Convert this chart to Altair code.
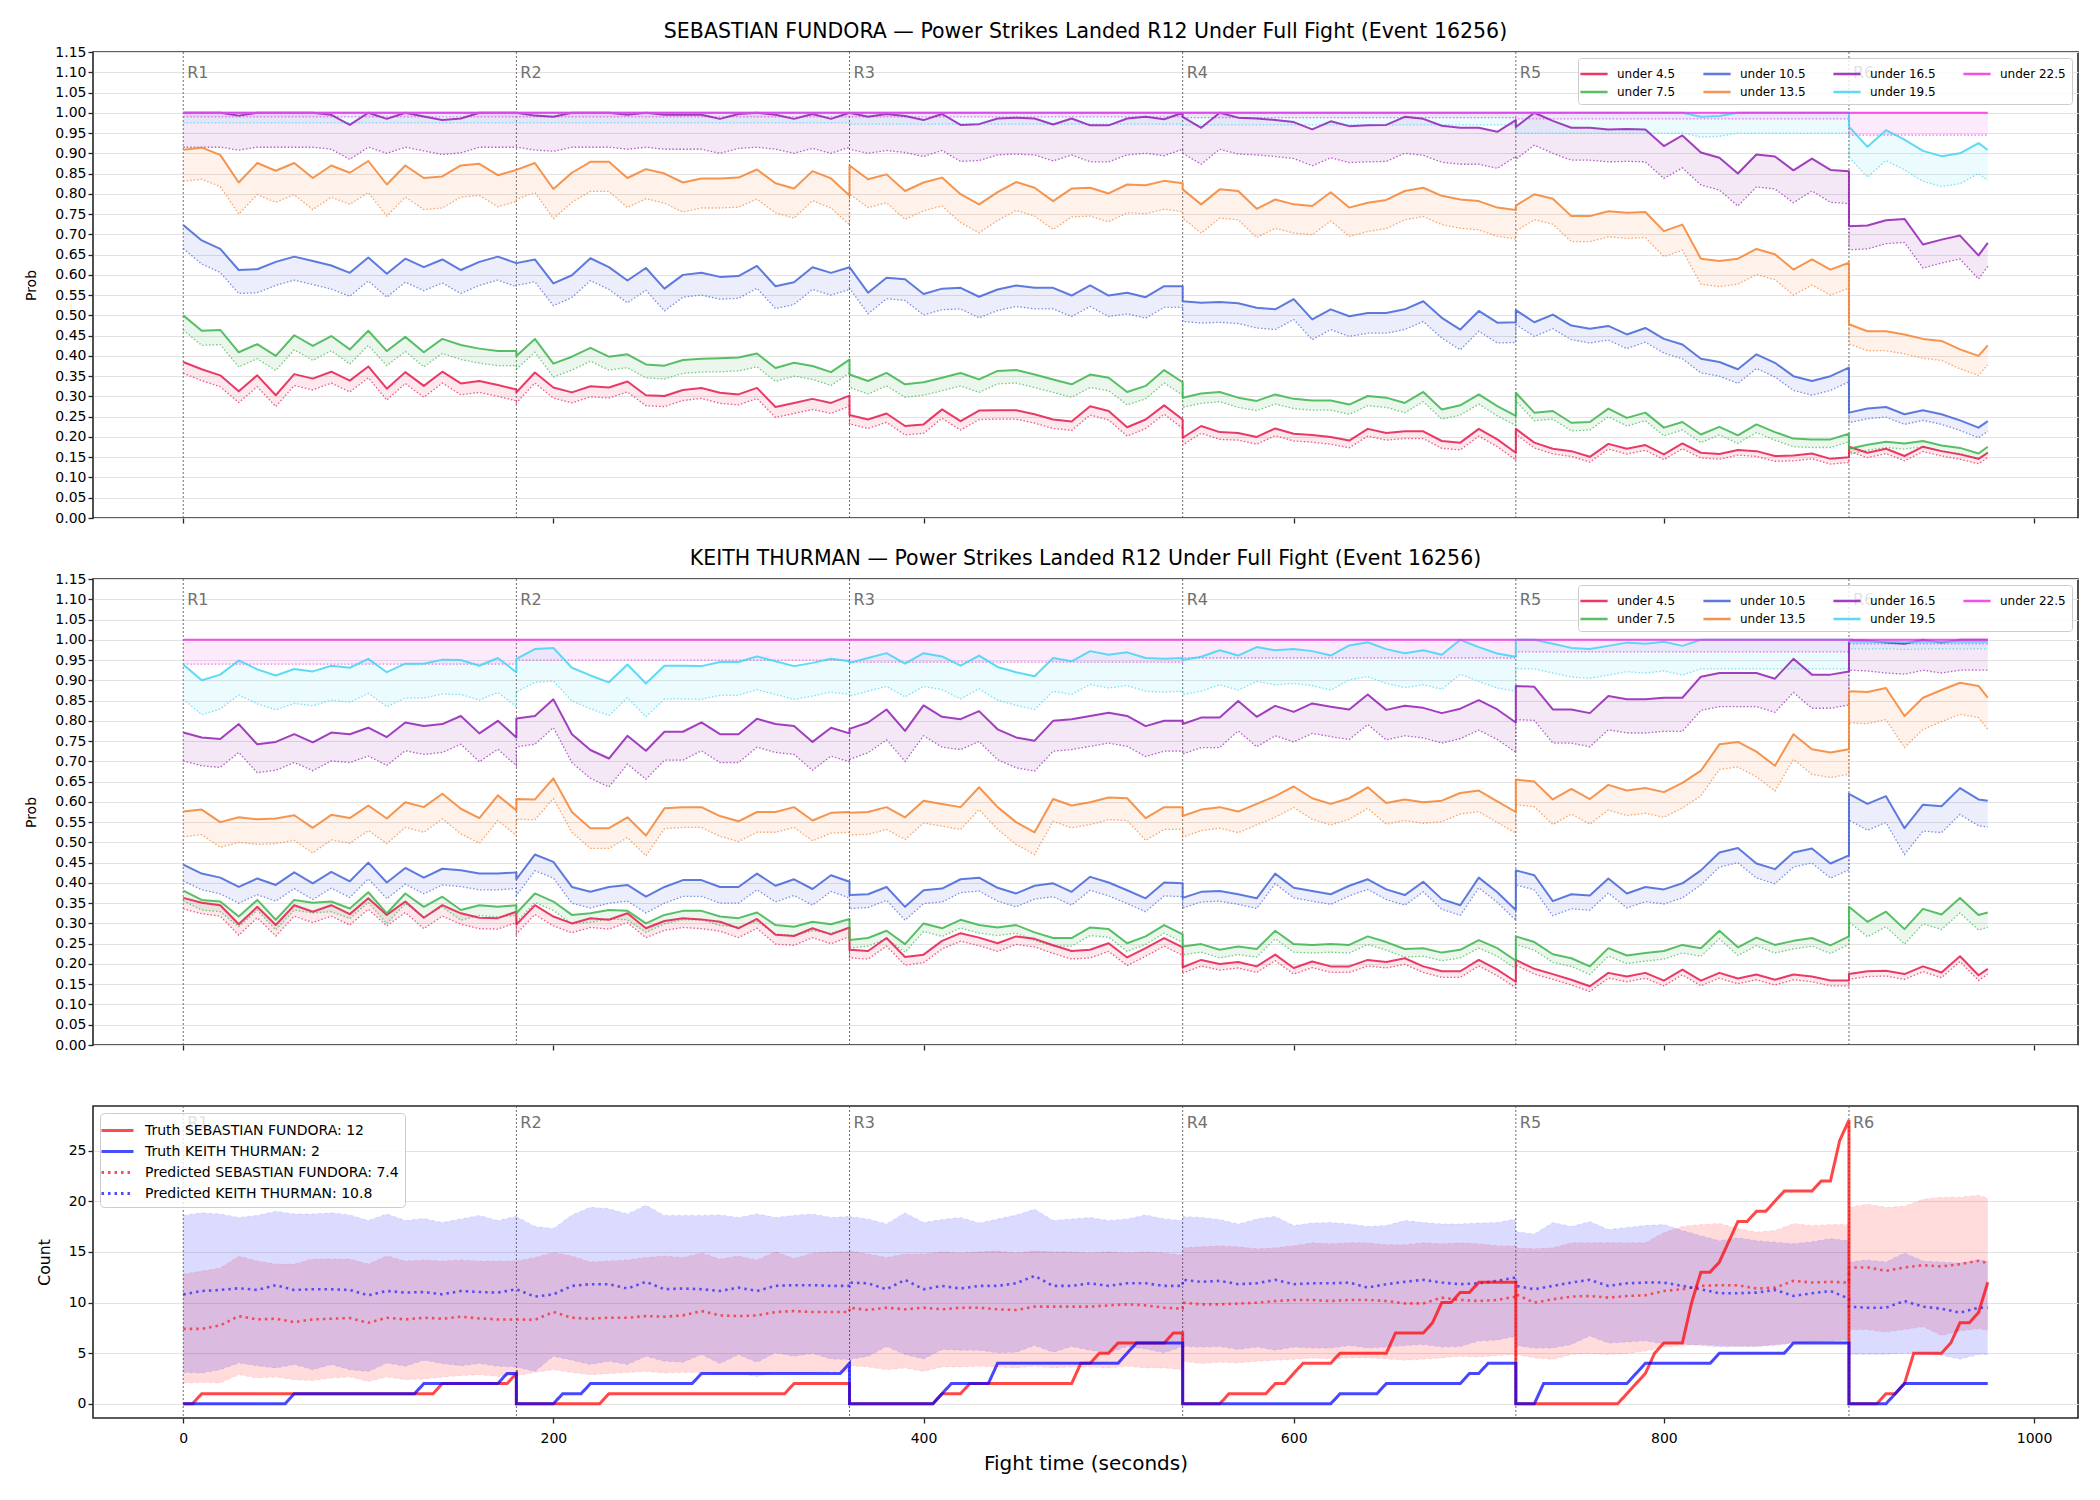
import altair as alt
import pandas as pd

FONT = "DejaVu Sans"

# ---------------------------------------------------------------- rounds
ROUND_NAMES = ["R1", "R2", "R3", "R4", "R5", "R6"]
ROUND_STARTS = [0, 180, 360, 540, 720, 900]
ROUND_ENDS = [180, 360, 540, 720, 900, 975]

# ---------------------------------------------------------------- thresholds
THRESHOLDS = ["under 4.5", "under 7.5", "under 10.5", "under 13.5",
              "under 16.5", "under 19.5", "under 22.5"]
THRESH_COLORS = ["#e6194b", "#3cb44b", "#4363d8", "#f58231",
                 "#911eb4", "#42d4f4", "#f032e6"]

# ---------------------------------------------------------------- SEBASTIAN FUNDORA, P(under x), one list per round, 10 s steps
F_U45 = [
    [0.385, 0.367, 0.352, 0.313, 0.352, 0.303, 0.355, 0.344, 0.361, 0.339, 0.374, 0.319, 0.360, 0.326, 0.361, 0.332, 0.338, 0.328, 0.317],
    [0.310, 0.359, 0.322, 0.310, 0.325, 0.322, 0.337, 0.303, 0.301, 0.316, 0.321, 0.309, 0.305, 0.321, 0.274, 0.284, 0.294, 0.284, 0.302],
    [0.254, 0.243, 0.258, 0.227, 0.231, 0.268, 0.239, 0.265, 0.266, 0.266, 0.256, 0.243, 0.238, 0.276, 0.264, 0.224, 0.243, 0.278, 0.243],
    [0.198, 0.227, 0.212, 0.210, 0.200, 0.221, 0.208, 0.205, 0.200, 0.191, 0.220, 0.210, 0.214, 0.214, 0.190, 0.186, 0.220, 0.194, 0.161],
    [0.220, 0.186, 0.171, 0.165, 0.151, 0.183, 0.171, 0.180, 0.157, 0.184, 0.161, 0.158, 0.168, 0.165, 0.153, 0.154, 0.159, 0.146, 0.150],
    [0.176, 0.161, 0.171, 0.153, 0.176, 0.165, 0.157, 0.146, 0.161],
]
F_U75 = [
    [0.500, 0.462, 0.464, 0.409, 0.429, 0.400, 0.451, 0.425, 0.449, 0.416, 0.462, 0.412, 0.447, 0.409, 0.442, 0.427, 0.418, 0.412, 0.412],
    [0.400, 0.442, 0.381, 0.398, 0.420, 0.398, 0.404, 0.379, 0.376, 0.390, 0.393, 0.394, 0.396, 0.406, 0.370, 0.383, 0.375, 0.360, 0.391],
    [0.354, 0.338, 0.358, 0.330, 0.335, 0.346, 0.358, 0.342, 0.363, 0.365, 0.354, 0.342, 0.330, 0.354, 0.346, 0.311, 0.326, 0.365, 0.335],
    [0.297, 0.307, 0.311, 0.297, 0.289, 0.305, 0.294, 0.290, 0.290, 0.280, 0.301, 0.297, 0.284, 0.311, 0.268, 0.278, 0.305, 0.276, 0.252],
    [0.309, 0.260, 0.264, 0.235, 0.237, 0.270, 0.247, 0.260, 0.223, 0.237, 0.206, 0.225, 0.204, 0.231, 0.212, 0.196, 0.194, 0.194, 0.208],
    [0.171, 0.181, 0.188, 0.184, 0.190, 0.179, 0.173, 0.159, 0.176],
]
F_U105 = [
    [0.723, 0.685, 0.664, 0.612, 0.614, 0.632, 0.645, 0.634, 0.623, 0.605, 0.643, 0.603, 0.640, 0.619, 0.638, 0.612, 0.632, 0.645, 0.629],
    [0.629, 0.638, 0.579, 0.599, 0.641, 0.619, 0.586, 0.617, 0.566, 0.600, 0.605, 0.595, 0.597, 0.622, 0.572, 0.582, 0.619, 0.605, 0.619],
    [0.619, 0.556, 0.593, 0.589, 0.553, 0.566, 0.568, 0.546, 0.564, 0.574, 0.568, 0.568, 0.549, 0.574, 0.549, 0.556, 0.545, 0.572, 0.572],
    [0.535, 0.531, 0.533, 0.530, 0.519, 0.515, 0.540, 0.490, 0.515, 0.498, 0.506, 0.506, 0.515, 0.535, 0.494, 0.465, 0.511, 0.482, 0.483],
    [0.513, 0.483, 0.502, 0.475, 0.467, 0.474, 0.453, 0.469, 0.442, 0.428, 0.393, 0.385, 0.367, 0.404, 0.383, 0.350, 0.338, 0.350, 0.371],
    [0.260, 0.270, 0.274, 0.256, 0.266, 0.256, 0.241, 0.223, 0.239],
]
F_U135 = [
    [0.909, 0.914, 0.896, 0.828, 0.876, 0.857, 0.876, 0.839, 0.870, 0.852, 0.881, 0.823, 0.870, 0.839, 0.843, 0.870, 0.874, 0.846, 0.859],
    [0.859, 0.876, 0.812, 0.852, 0.879, 0.879, 0.839, 0.861, 0.850, 0.828, 0.838, 0.838, 0.840, 0.860, 0.826, 0.813, 0.856, 0.838, 0.796],
    [0.870, 0.836, 0.848, 0.807, 0.828, 0.840, 0.799, 0.774, 0.804, 0.829, 0.815, 0.782, 0.813, 0.815, 0.801, 0.823, 0.821, 0.832, 0.826],
    [0.811, 0.774, 0.811, 0.807, 0.763, 0.786, 0.774, 0.770, 0.804, 0.766, 0.778, 0.785, 0.807, 0.815, 0.795, 0.786, 0.782, 0.766, 0.760],
    [0.771, 0.799, 0.788, 0.745, 0.745, 0.757, 0.753, 0.755, 0.708, 0.724, 0.640, 0.634, 0.640, 0.664, 0.651, 0.613, 0.638, 0.613, 0.630],
    [0.478, 0.461, 0.461, 0.453, 0.442, 0.437, 0.416, 0.400, 0.426],
]
F_U165 = [
    [1.000, 1.000, 1.000, 0.993, 1.000, 1.000, 1.000, 1.000, 0.995, 0.970, 1.000, 0.985, 1.000, 0.991, 0.982, 0.986, 1.000, 1.000, 1.000],
    [1.000, 0.993, 0.990, 1.000, 1.000, 1.000, 0.995, 1.000, 0.995, 0.995, 0.995, 0.985, 0.997, 1.000, 0.995, 0.985, 0.997, 0.985, 1.000],
    [1.000, 0.990, 0.997, 0.992, 0.982, 0.997, 0.970, 0.972, 0.986, 0.988, 0.986, 0.971, 0.986, 0.969, 0.969, 0.986, 0.990, 0.984, 1.000],
    [0.990, 0.963, 1.000, 0.988, 0.986, 0.982, 0.977, 0.959, 0.979, 0.967, 0.969, 0.970, 0.990, 0.985, 0.968, 0.963, 0.963, 0.953, 0.982],
    [0.965, 1.000, 0.980, 0.963, 0.963, 0.959, 0.960, 0.959, 0.918, 0.944, 0.902, 0.889, 0.850, 0.897, 0.892, 0.858, 0.887, 0.859, 0.856],
    [0.720, 0.722, 0.735, 0.738, 0.675, 0.687, 0.697, 0.648, 0.679],
]
F_U195 = [
    [1.000, 1.000, 1.000, 1.000, 1.000, 1.000, 1.000, 1.000, 1.000, 1.000, 1.000, 1.000, 1.000, 1.000, 1.000, 1.000, 1.000, 1.000, 1.000],
    [1.000, 1.000, 1.000, 1.000, 1.000, 1.000, 1.000, 1.000, 1.000, 1.000, 1.000, 1.000, 1.000, 1.000, 1.000, 1.000, 1.000, 1.000, 1.000],
    [1.000, 1.000, 1.000, 1.000, 1.000, 1.000, 1.000, 1.000, 1.000, 1.000, 1.000, 1.000, 1.000, 1.000, 1.000, 1.000, 1.000, 1.000, 1.000],
    [1.000, 1.000, 1.000, 1.000, 1.000, 1.000, 1.000, 1.000, 1.000, 1.000, 1.000, 1.000, 1.000, 1.000, 1.000, 1.000, 1.000, 1.000, 1.000],
    [1.000, 1.000, 1.000, 1.000, 1.000, 1.000, 1.000, 1.000, 1.000, 1.000, 0.990, 0.992, 1.000, 1.000, 1.000, 1.000, 1.000, 1.000, 1.000],
    [0.966, 0.916, 0.957, 0.934, 0.906, 0.893, 0.900, 0.925, 0.908],
]
F_U225 = [
    [1.000, 1.000, 1.000, 1.000, 1.000, 1.000, 1.000, 1.000, 1.000, 1.000, 1.000, 1.000, 1.000, 1.000, 1.000, 1.000, 1.000, 1.000, 1.000],
    [1.000, 1.000, 1.000, 1.000, 1.000, 1.000, 1.000, 1.000, 1.000, 1.000, 1.000, 1.000, 1.000, 1.000, 1.000, 1.000, 1.000, 1.000, 1.000],
    [1.000, 1.000, 1.000, 1.000, 1.000, 1.000, 1.000, 1.000, 1.000, 1.000, 1.000, 1.000, 1.000, 1.000, 1.000, 1.000, 1.000, 1.000, 1.000],
    [1.000, 1.000, 1.000, 1.000, 1.000, 1.000, 1.000, 1.000, 1.000, 1.000, 1.000, 1.000, 1.000, 1.000, 1.000, 1.000, 1.000, 1.000, 1.000],
    [1.000, 1.000, 1.000, 1.000, 1.000, 1.000, 1.000, 1.000, 1.000, 1.000, 1.000, 1.000, 1.000, 1.000, 1.000, 1.000, 1.000, 1.000, 1.000],
    [1.000, 1.000, 1.000, 1.000, 1.000, 1.000, 1.000, 1.000, 1.000],
]
# distance from each line down to its lower dotted bound, per round
F_LOWER_GAP = {
    "under 4.5": [0.028, 0.026, 0.022, 0.018, 0.013, 0.012],
    "under 7.5": [0.036, 0.033, 0.032, 0.024, 0.020, 0.014],
    "under 10.5": [0.058, 0.055, 0.052, 0.050, 0.035, 0.025],
    "under 13.5": [0.078, 0.073, 0.070, 0.071, 0.063, 0.048],
    "under 16.5": [0.085, 0.085, 0.090, 0.090, 0.080, 0.058],
    "under 19.5": [0.025, 0.025, 0.028, 0.030, 0.050, 0.075],
    "under 22.5": [0.010, 0.010, 0.010, 0.012, 0.015, 0.055],
}

# ---------------------------------------------------------------- KEITH THURMAN
K_U45 = [
    [0.363, 0.351, 0.345, 0.298, 0.341, 0.296, 0.345, 0.329, 0.345, 0.323, 0.362, 0.321, 0.354, 0.314, 0.345, 0.325, 0.314, 0.313, 0.329],
    [0.297, 0.345, 0.317, 0.300, 0.313, 0.309, 0.325, 0.288, 0.306, 0.313, 0.310, 0.304, 0.288, 0.311, 0.272, 0.269, 0.288, 0.273, 0.290],
    [0.235, 0.232, 0.264, 0.217, 0.223, 0.257, 0.276, 0.265, 0.251, 0.268, 0.262, 0.246, 0.232, 0.235, 0.251, 0.216, 0.239, 0.264, 0.241],
    [0.192, 0.210, 0.200, 0.205, 0.194, 0.223, 0.190, 0.206, 0.194, 0.194, 0.210, 0.205, 0.214, 0.194, 0.182, 0.182, 0.210, 0.186, 0.156],
    [0.210, 0.188, 0.175, 0.161, 0.145, 0.178, 0.169, 0.178, 0.159, 0.186, 0.159, 0.178, 0.164, 0.174, 0.161, 0.174, 0.169, 0.159, 0.159],
    [0.175, 0.182, 0.183, 0.175, 0.194, 0.179, 0.219, 0.172, 0.188],
]
K_U75 = [
    [0.381, 0.358, 0.354, 0.317, 0.358, 0.309, 0.358, 0.351, 0.354, 0.337, 0.377, 0.325, 0.374, 0.341, 0.366, 0.333, 0.345, 0.341, 0.345],
    [0.325, 0.374, 0.354, 0.321, 0.325, 0.333, 0.331, 0.300, 0.321, 0.331, 0.331, 0.317, 0.313, 0.327, 0.296, 0.292, 0.304, 0.298, 0.311],
    [0.259, 0.264, 0.282, 0.249, 0.300, 0.288, 0.309, 0.296, 0.290, 0.296, 0.278, 0.264, 0.264, 0.290, 0.286, 0.251, 0.268, 0.296, 0.273],
    [0.243, 0.249, 0.235, 0.243, 0.237, 0.282, 0.249, 0.247, 0.249, 0.247, 0.268, 0.254, 0.237, 0.239, 0.228, 0.235, 0.259, 0.239, 0.208],
    [0.268, 0.254, 0.224, 0.214, 0.194, 0.239, 0.221, 0.227, 0.232, 0.247, 0.239, 0.282, 0.241, 0.265, 0.247, 0.257, 0.264, 0.246, 0.268],
    [0.341, 0.304, 0.329, 0.286, 0.336, 0.322, 0.363, 0.321, 0.327],
]
K_U105 = [
    [0.445, 0.423, 0.413, 0.390, 0.411, 0.395, 0.426, 0.399, 0.427, 0.404, 0.450, 0.401, 0.437, 0.413, 0.435, 0.431, 0.423, 0.423, 0.426],
    [0.409, 0.470, 0.452, 0.390, 0.378, 0.390, 0.395, 0.366, 0.390, 0.407, 0.407, 0.390, 0.390, 0.423, 0.393, 0.409, 0.385, 0.419, 0.403],
    [0.370, 0.372, 0.390, 0.341, 0.382, 0.386, 0.409, 0.413, 0.388, 0.374, 0.393, 0.399, 0.378, 0.415, 0.401, 0.382, 0.362, 0.401, 0.399],
    [0.363, 0.378, 0.380, 0.372, 0.362, 0.423, 0.388, 0.380, 0.372, 0.393, 0.409, 0.384, 0.370, 0.403, 0.360, 0.345, 0.413, 0.377, 0.333],
    [0.431, 0.419, 0.355, 0.372, 0.369, 0.411, 0.374, 0.390, 0.384, 0.399, 0.431, 0.475, 0.486, 0.448, 0.434, 0.475, 0.485, 0.448, 0.468],
    [0.620, 0.595, 0.614, 0.535, 0.593, 0.589, 0.634, 0.606, 0.603],
]
K_U135 = [
    [0.576, 0.581, 0.550, 0.562, 0.557, 0.559, 0.567, 0.536, 0.568, 0.560, 0.591, 0.559, 0.599, 0.587, 0.620, 0.583, 0.560, 0.616, 0.579],
    [0.607, 0.606, 0.658, 0.575, 0.535, 0.535, 0.562, 0.517, 0.584, 0.587, 0.587, 0.565, 0.552, 0.575, 0.575, 0.587, 0.554, 0.573, 0.575],
    [0.573, 0.575, 0.587, 0.562, 0.603, 0.595, 0.587, 0.636, 0.587, 0.550, 0.525, 0.607, 0.591, 0.599, 0.611, 0.609, 0.560, 0.587, 0.587],
    [0.565, 0.581, 0.587, 0.576, 0.595, 0.614, 0.638, 0.609, 0.595, 0.609, 0.636, 0.597, 0.606, 0.599, 0.603, 0.622, 0.628, 0.601, 0.575],
    [0.655, 0.650, 0.606, 0.632, 0.607, 0.642, 0.628, 0.634, 0.624, 0.647, 0.677, 0.742, 0.748, 0.724, 0.689, 0.767, 0.730, 0.722, 0.730],
    [0.873, 0.871, 0.881, 0.812, 0.857, 0.876, 0.894, 0.886, 0.857],
]
K_U165 = [
    [0.771, 0.759, 0.755, 0.792, 0.742, 0.748, 0.767, 0.747, 0.771, 0.767, 0.783, 0.760, 0.796, 0.787, 0.792, 0.812, 0.769, 0.800, 0.759],
    [0.806, 0.812, 0.853, 0.767, 0.728, 0.707, 0.763, 0.726, 0.773, 0.773, 0.796, 0.767, 0.767, 0.805, 0.792, 0.787, 0.748, 0.783, 0.769],
    [0.780, 0.796, 0.828, 0.775, 0.838, 0.810, 0.804, 0.824, 0.779, 0.759, 0.751, 0.800, 0.804, 0.812, 0.820, 0.812, 0.787, 0.800, 0.800],
    [0.792, 0.808, 0.808, 0.849, 0.810, 0.837, 0.822, 0.843, 0.835, 0.828, 0.865, 0.827, 0.837, 0.832, 0.819, 0.830, 0.851, 0.828, 0.796],
    [0.886, 0.884, 0.828, 0.828, 0.819, 0.861, 0.853, 0.853, 0.857, 0.857, 0.909, 0.918, 0.918, 0.918, 0.904, 0.953, 0.914, 0.914, 0.922],
    [1.000, 0.998, 0.993, 0.990, 1.000, 0.993, 1.000, 1.000, 1.000],
]
K_U195 = [
    [0.939, 0.900, 0.914, 0.949, 0.927, 0.912, 0.928, 0.922, 0.936, 0.931, 0.953, 0.920, 0.941, 0.941, 0.951, 0.950, 0.936, 0.955, 0.920],
    [0.953, 0.977, 0.980, 0.931, 0.912, 0.895, 0.939, 0.892, 0.936, 0.936, 0.935, 0.945, 0.945, 0.959, 0.947, 0.935, 0.943, 0.953, 0.947],
    [0.943, 0.955, 0.967, 0.941, 0.967, 0.959, 0.936, 0.961, 0.933, 0.920, 0.910, 0.955, 0.947, 0.972, 0.963, 0.969, 0.955, 0.953, 0.955],
    [0.950, 0.958, 0.974, 0.961, 0.982, 0.974, 0.977, 0.972, 0.961, 0.986, 0.994, 0.977, 0.967, 0.974, 0.963, 1.000, 0.982, 0.966, 0.958],
    [1.000, 1.000, 0.990, 0.980, 0.977, 0.985, 0.993, 0.990, 0.995, 0.985, 1.000, 1.000, 1.000, 1.000, 1.000, 1.000, 1.000, 1.000, 1.000],
    [0.996, 0.995, 0.996, 0.994, 0.995, 0.996, 0.995, 0.996, 0.995],
]
K_U225 = F_U225
K_LOWER_GAP = {
    "under 4.5": [0.027, 0.023, 0.020, 0.015, 0.013, 0.013],
    "under 7.5": [0.025, 0.022, 0.020, 0.020, 0.020, 0.037],
    "under 10.5": [0.040, 0.040, 0.033, 0.025, 0.036, 0.065],
    "under 13.5": [0.062, 0.050, 0.055, 0.052, 0.062, 0.078],
    "under 16.5": [0.070, 0.070, 0.075, 0.074, 0.083, 0.075],
    "under 19.5": [0.085, 0.082, 0.082, 0.085, 0.072, 0.018],
    "under 22.5": [0.060, 0.050, 0.055, 0.045, 0.030, 0.010],
}

# ---------------------------------------------------------------- running counts (5 s steps, reset each round)
TRUTH_FUNDORA = [
    [0, 0, 1, 1, 1, 1, 1, 1, 1, 1, 1, 1, 1, 1, 1, 1, 1, 1, 1, 1, 1, 1, 1, 1, 1, 1, 1, 1, 2, 2, 2, 2, 2, 2, 2, 2, 3],
    [0, 0, 0, 0, 0, 0, 0, 0, 0, 0, 1, 1, 1, 1, 1, 1, 1, 1, 1, 1, 1, 1, 1, 1, 1, 1, 1, 1, 1, 1, 2, 2, 2, 2, 2, 2, 2],
    [0, 0, 0, 0, 0, 0, 0, 0, 0, 0, 1, 1, 1, 2, 2, 2, 2, 2, 2, 2, 2, 2, 2, 2, 2, 4, 4, 5, 5, 6, 6, 6, 6, 6, 6, 7, 7],
    [0, 0, 0, 0, 0, 1, 1, 1, 1, 1, 2, 2, 3, 4, 4, 4, 4, 5, 5, 5, 5, 5, 5, 7, 7, 7, 7, 8, 10, 10, 11, 11, 12, 12, 12, 12, 12],
    [0, 0, 0, 0, 0, 0, 0, 0, 0, 0, 0, 0, 1, 2, 3, 5, 6, 6, 6, 10, 13, 13, 14, 16, 18, 18, 19, 19, 20, 21, 21, 21, 21, 22, 22, 26, 28],
    [0, 0, 0, 0, 1, 1, 2, 5, 5, 5, 5, 6, 8, 8, 9, 12],
]
TRUTH_THURMAN = [
    [0, 0, 0, 0, 0, 0, 0, 0, 0, 0, 0, 0, 1, 1, 1, 1, 1, 1, 1, 1, 1, 1, 1, 1, 1, 1, 2, 2, 2, 2, 2, 2, 2, 2, 2, 3, 3],
    [0, 0, 0, 0, 0, 1, 1, 1, 2, 2, 2, 2, 2, 2, 2, 2, 2, 2, 2, 2, 3, 3, 3, 3, 3, 3, 3, 3, 3, 3, 3, 3, 3, 3, 3, 3, 4],
    [0, 0, 0, 0, 0, 0, 0, 0, 0, 0, 1, 2, 2, 2, 2, 2, 4, 4, 4, 4, 4, 4, 4, 4, 4, 4, 4, 4, 4, 4, 5, 6, 6, 6, 6, 6, 6],
    [0, 0, 0, 0, 0, 0, 0, 0, 0, 0, 0, 0, 0, 0, 0, 0, 0, 1, 1, 1, 1, 1, 2, 2, 2, 2, 2, 2, 2, 2, 2, 3, 3, 4, 4, 4, 4],
    [0, 0, 0, 2, 2, 2, 2, 2, 2, 2, 2, 2, 2, 3, 4, 4, 4, 4, 4, 4, 4, 4, 5, 5, 5, 5, 5, 5, 5, 5, 6, 6, 6, 6, 6, 6, 6],
    [0, 0, 0, 0, 0, 1, 2, 2, 2, 2, 2, 2, 2, 2, 2, 2],
]

# ---------------------------------------------------------------- predicted totals and bands (10 s steps)
PRED_FUNDORA = [
    [7.40, 7.40, 7.74, 8.66, 8.33, 8.40, 8.07, 8.33, 8.40, 8.47, 8.00, 8.50, 8.33, 8.50, 8.40, 8.60, 8.43, 8.33, 8.33],
    [8.33, 8.30, 9.06, 8.50, 8.40, 8.50, 8.50, 8.66, 8.60, 8.73, 9.16, 8.73, 8.66, 8.73, 9.06, 9.16, 9.06, 9.06, 9.06],
    [9.49, 9.26, 9.49, 9.33, 9.49, 9.33, 9.49, 9.49, 9.33, 9.26, 9.59, 9.59, 9.59, 9.59, 9.72, 9.82, 9.72, 9.49, 9.39],
    [9.99, 9.82, 9.82, 9.89, 9.99, 10.15, 10.25, 10.25, 10.15, 10.25, 10.25, 10.15, 9.92, 9.92, 10.48, 10.25, 10.15, 10.25, 10.58],
    [10.81, 9.99, 10.32, 10.58, 10.65, 10.48, 10.65, 10.71, 11.14, 11.31, 11.64, 11.71, 11.71, 11.38, 11.47, 12.14, 11.97, 12.04, 11.97],
    [13.46, 13.46, 13.13, 13.46, 13.69, 13.56, 13.79, 14.12, 13.89],
]
PRED_THURMAN = [
    [10.80, 11.14, 11.24, 11.41, 11.24, 11.71, 11.24, 11.31, 11.31, 11.24, 10.71, 11.14, 10.98, 11.04, 10.81, 11.14, 11.04, 10.98, 11.31],
    [11.31, 10.58, 10.81, 11.64, 11.81, 11.81, 11.38, 12.04, 11.31, 11.38, 11.31, 11.14, 11.47, 11.14, 11.64, 11.71, 11.71, 11.64, 11.64],
    [11.97, 11.90, 11.31, 12.24, 11.31, 11.64, 11.38, 11.64, 11.64, 11.90, 12.63, 11.64, 11.64, 11.90, 11.64, 11.90, 11.90, 11.64, 11.64],
    [12.24, 12.04, 12.14, 11.81, 11.90, 12.24, 11.81, 11.90, 11.90, 11.97, 11.47, 11.81, 12.04, 12.24, 11.97, 11.81, 11.90, 12.14, 12.47],
    [11.64, 11.31, 11.64, 11.97, 12.24, 11.64, 11.90, 11.97, 11.97, 11.64, 11.31, 10.91, 10.91, 10.98, 11.24, 10.65, 10.91, 11.14, 10.38],
    [9.59, 9.49, 9.49, 10.15, 9.59, 9.39, 9.00, 9.49, 9.49],
]
BAND_FUNDORA_HI = [
    [12.8, 13.1, 13.4, 14.6, 14.1, 13.8, 13.8, 14.3, 14.3, 14.3, 13.8, 14.6, 14.1, 14.2, 14.1, 14.2, 14.1, 14.1, 14.1],
    [14.1, 14.45, 14.95, 14.6, 14.0, 14.1, 14.2, 14.45, 14.6, 14.45, 14.9, 14.3, 14.6, 14.2, 15.0, 14.35, 14.9, 15.0, 15.0],
    [15.1, 14.8, 14.45, 14.8, 14.8, 15.0, 14.9, 15.0, 15.1, 14.9, 15.1, 15.0, 15.0, 14.9, 15.0, 14.9, 15.0, 14.9, 14.7],
    [15.4, 15.5, 15.6, 15.5, 15.3, 15.4, 15.6, 15.9, 15.8, 15.9, 15.9, 15.7, 15.7, 15.9, 15.8, 15.9, 15.8, 15.6, 15.6],
    [15.4, 15.3, 15.4, 15.9, 15.9, 15.9, 15.9, 15.9, 16.9, 17.5, 17.7, 17.8, 17.3, 16.95, 17.1, 17.8, 17.6, 17.7, 17.7],
    [19.4, 19.7, 19.4, 19.5, 20.2, 20.4, 20.4, 20.6, 20.3],
]
BAND_FUNDORA_LO = [
    [2.05, 2.10, 2.05, 2.88, 2.55, 2.65, 2.38, 2.30, 2.55, 2.65, 2.20, 2.65, 2.38, 2.45, 2.65, 2.78, 2.88, 2.70, 2.78],
    [2.78, 3.10, 3.37, 3.10, 2.88, 2.98, 3.10, 3.20, 3.04, 3.10, 3.10, 2.88, 2.98, 2.70, 3.10, 3.04, 3.10, 3.20, 3.20],
    [3.77, 3.64, 3.37, 3.54, 3.20, 3.64, 3.64, 3.70, 3.64, 3.54, 3.70, 3.54, 3.64, 3.64, 3.54, 3.70, 3.54, 3.54, 3.37],
    [4.20, 3.97, 4.10, 4.03, 4.20, 4.30, 4.37, 4.53, 4.43, 4.53, 4.53, 4.43, 4.30, 4.40, 4.53, 4.70, 4.63, 4.76, 4.86],
    [4.86, 4.53, 4.37, 4.86, 4.96, 4.86, 4.96, 5.20, 5.60, 5.75, 5.85, 5.75, 5.69, 5.69, 5.85, 6.02, 6.08, 6.18, 6.35],
    [7.34, 7.30, 7.08, 7.34, 7.60, 6.75, 7.20, 7.40, 7.27],
]
BAND_THURMAN_HI = [
    [18.6, 18.85, 18.75, 18.4, 18.6, 19.0, 18.75, 18.75, 18.85, 18.65, 18.1, 18.75, 18.1, 18.3, 17.9, 18.25, 18.6, 18.1, 18.5],
    [18.5, 17.5, 17.3, 18.65, 19.4, 19.25, 18.75, 19.6, 18.6, 18.6, 18.6, 18.65, 18.4, 18.75, 18.4, 18.6, 18.75, 18.4, 18.5],
    [18.5, 18.25, 17.76, 18.85, 17.9, 18.2, 18.4, 17.85, 18.25, 18.65, 19.2, 18.1, 18.25, 18.4, 18.1, 18.25, 18.65, 18.25, 18.1],
    [18.5, 18.4, 18.2, 17.76, 18.25, 18.5, 17.6, 17.85, 17.9, 17.76, 17.5, 17.6, 18.1, 17.9, 17.76, 17.76, 17.85, 17.9, 18.25],
    [17.0, 16.77, 17.9, 17.5, 18.0, 17.2, 17.4, 17.6, 17.7, 17.1, 16.6, 16.1, 16.4, 16.1, 15.95, 15.8, 16.0, 16.3, 16.1],
    [14.0, 14.2, 14.0, 14.9, 14.1, 14.0, 13.9, 14.2, 14.1],
]
BAND_THURMAN_LO = [
    [3.10, 3.04, 3.37, 4.03, 3.77, 3.54, 3.87, 3.37, 3.87, 3.37, 3.20, 4.03, 3.70, 4.30, 3.97, 3.77, 3.97, 3.70, 3.64],
    [3.64, 3.20, 4.70, 4.30, 3.87, 4.20, 3.87, 4.70, 4.20, 4.10, 4.86, 3.97, 4.86, 4.10, 5.03, 4.70, 4.96, 4.43, 4.37],
    [4.37, 4.70, 5.65, 4.86, 4.43, 5.36, 5.30, 5.30, 5.03, 5.10, 5.75, 5.10, 5.65, 5.30, 5.03, 5.65, 5.40, 5.03, 5.65],
    [5.65, 5.60, 5.65, 5.36, 5.60, 5.30, 5.60, 5.50, 5.50, 5.75, 5.50, 5.60, 5.75, 5.85, 5.60, 5.65, 6.20, 6.30, 6.68],
    [5.75, 5.50, 5.50, 5.85, 6.70, 6.00, 6.10, 6.22, 5.90, 5.90, 5.75, 5.60, 5.65, 5.65, 5.75, 6.00, 6.08, 6.08, 5.95],
    [4.86, 4.90, 4.90, 5.00, 4.90, 4.80, 4.40, 4.86, 4.86],
]

TRUTH_F_LABEL = "Truth SEBASTIAN FUNDORA: 12"
TRUTH_K_LABEL = "Truth KEITH THURMAN: 2"
PRED_F_LABEL = "Predicted SEBASTIAN FUNDORA: 7.4"
PRED_K_LABEL = "Predicted KEITH THURMAN: 10.8"

TITLE_F = "SEBASTIAN FUNDORA \u2014 Power Strikes Landed R12 Under Full Fight (Event 16256)"
TITLE_K = "KEITH THURMAN \u2014 Power Strikes Landed R12 Under Full Fight (Event 16256)"


# ---------------------------------------------------------------- tables
def round_times(r, step):
    start, end = ROUND_STARTS[r], ROUND_ENDS[r]
    return list(range(start, end, step)) + [end]


def prob_table(series_lists, gaps):
    rows = []
    for name, rounds in zip(THRESHOLDS, series_lists):
        for r, vals in enumerate(rounds):
            ts = round_times(r, 10)
            assert len(ts) == len(vals), (name, r)
            for k, (t, v) in enumerate(zip(ts, vals)):
                rows.append({"series": name, "rnd": r, "ord": r * 100 + k,
                             "t": t, "p": v, "lo": v - gaps[name][r]})
    return pd.DataFrame(rows)


fundora_df = prob_table([F_U45, F_U75, F_U105, F_U135, F_U165, F_U195, F_U225], F_LOWER_GAP)
thurman_df = prob_table([K_U45, K_U75, K_U105, K_U135, K_U165, K_U195, K_U225], K_LOWER_GAP)

truth_rows = []
for label, rounds in [(TRUTH_F_LABEL, TRUTH_FUNDORA), (TRUTH_K_LABEL, TRUTH_THURMAN)]:
    for r, vals in enumerate(rounds):
        ts = round_times(r, 5)
        assert len(ts) == len(vals), (label, r)
        for k, (t, v) in enumerate(zip(ts, vals)):
            truth_rows.append({"series": label, "rnd": r, "ord": r * 100 + k, "t": t, "v": v})
truth_df = pd.DataFrame(truth_rows)

pred_rows = []
for label, mean, lo, hi in [(PRED_F_LABEL, PRED_FUNDORA, BAND_FUNDORA_LO, BAND_FUNDORA_HI),
                            (PRED_K_LABEL, PRED_THURMAN, BAND_THURMAN_LO, BAND_THURMAN_HI)]:
    for r in range(6):
        ts = round_times(r, 10)
        assert len(ts) == len(mean[r]) == len(lo[r]) == len(hi[r]), (label, r)
        for k, t in enumerate(ts):
            pred_rows.append({"series": label, "rnd": r, "ord": r * 100 + k, "t": t,
                              "mean": mean[r][k], "lo": lo[r][k], "hi": hi[r][k]})
pred_df = pd.DataFrame(pred_rows)

rounds_df = pd.DataFrame({"t": ROUND_STARTS, "name": ROUND_NAMES})

# ---------------------------------------------------------------- shared encodings
PLOT_W = 1985
X_SCALE = alt.Scale(domain=[-48.75, 1023.75], nice=False, zero=False)
X_TICKS = [0, 200, 400, 600, 800, 1000]
PROB_TICKS = [round(i * 0.05, 2) for i in range(24)]

PROB_COLOR_SCALE = alt.Scale(domain=THRESHOLDS, range=THRESH_COLORS)

COUNT_DOMAIN = [TRUTH_F_LABEL, TRUTH_K_LABEL, PRED_F_LABEL, PRED_K_LABEL]
COUNT_COLOR_SCALE = alt.Scale(domain=COUNT_DOMAIN, range=["#ff0000", "#0000ff", "#ff0000", "#0000ff"])
COUNT_DASH_SCALE = alt.Scale(domain=COUNT_DOMAIN, range=[[1, 0], [1, 0], [2.5, 4], [2.5, 4]])

# a flat line symbol that is longer than it is tall
LINE_SYMBOL = "M-1.6,0L1.6,0"

PROB_LEGEND = alt.Legend(
    title=None, orient="top-right", columns=4, offset=6, padding=6,
    fillColor="rgba(255,255,255,0.8)", strokeColor="#cccccc", cornerRadius=3,
    symbolType=LINE_SYMBOL, symbolStrokeWidth=2.5, symbolSize=289, symbolOpacity=0.85,
    labelFontSize=12, labelFont=FONT, labelOffset=13, labelLimit=0,
    columnPadding=22, rowPadding=2,
)
COUNT_LEGEND = alt.Legend(
    title=None, orient="top-left", offset=7, padding=6,
    fillColor="rgba(255,255,255,0.8)", strokeColor="#cccccc", cornerRadius=4,
    symbolType=LINE_SYMBOL, symbolStrokeWidth=3, symbolSize=400, symbolOpacity=0.7,
    labelFontSize=14, labelFont=FONT, labelOffset=16, labelLimit=0, rowPadding=2,
)


def x_enc(with_labels):
    if with_labels:
        axis = alt.Axis(values=X_TICKS, format="d", title="Fight time (seconds)", grid=False, tickSize=5,
                        labelFontSize=14, labelPadding=8, titleFontSize=20, titlePadding=8)
    else:
        axis = alt.Axis(values=X_TICKS, labels=False, title=None, grid=False, tickSize=5)
    return alt.X("t:Q", scale=X_SCALE, axis=axis)


def round_layers(x, label_y):
    rules = alt.Chart(rounds_df).mark_rule(
        color="#555555", strokeDash=[2, 2], strokeWidth=1, opacity=0.85
    ).encode(x=x)
    labels = alt.Chart(rounds_df).mark_text(
        align="left", baseline="middle", dx=4, fontSize=16, color="#707070", font=FONT
    ).encode(x=x, y=alt.value(label_y), text="name:N")
    return rules, labels


def prob_panel(df, title):
    x = x_enc(False)
    y_scale = alt.Scale(domain=[0, 1.15], nice=False, zero=False)
    y_axis = alt.Axis(values=PROB_TICKS, format=".2f", title="Prob", grid=True,
                      tickSize=5, titleFontSize=14, titlePadding=16)
    color = alt.Color("series:N", scale=PROB_COLOR_SCALE, legend=PROB_LEGEND)
    base = alt.Chart(df)
    band = base.mark_area(opacity=0.1).encode(
        x=x,
        y=alt.Y("lo:Q", scale=y_scale, axis=y_axis, stack=None),
        y2="p:Q",
        color=color,
        detail="rnd:N",
    )
    lower = base.mark_line(strokeWidth=1.3, strokeDash=[1.5, 2], opacity=0.7).encode(
        x=x, y=alt.Y("lo:Q", scale=y_scale, axis=y_axis), color=color, order="ord:Q",
    )
    main = base.mark_line(strokeWidth=2, opacity=0.85, strokeJoin="round").encode(
        x=x, y=alt.Y("p:Q", scale=y_scale, axis=y_axis), color=color, order="ord:Q",
    )
    rules, labels = round_layers(x, 21)
    return alt.layer(rules, labels, band, lower, main).properties(
        width=PLOT_W, height=466, title=alt.TitleParams(title, fontSize=20.5)
    )


def count_panel():
    x = x_enc(True)
    y_scale = alt.Scale(domain=[-1.4, 29.4], nice=False, zero=False)
    y_axis = alt.Axis(values=[0, 5, 10, 15, 20, 25], title="Count", grid=True,
                      tickSize=5, titleFontSize=15.7, titlePadding=16)
    color = alt.Color("series:N", scale=COUNT_COLOR_SCALE, legend=COUNT_LEGEND)
    dash = alt.StrokeDash("series:N", scale=COUNT_DASH_SCALE, legend=COUNT_LEGEND)
    bands = alt.Chart(pred_df).mark_area(opacity=0.14).encode(
        x=x,
        y=alt.Y("lo:Q", scale=y_scale, axis=y_axis, stack=None),
        y2="hi:Q",
        color=color,
        detail="rnd:N",
    )
    band_lo = alt.Chart(pred_df).mark_line(strokeWidth=1, opacity=0.12).encode(
        x=x, y=alt.Y("lo:Q", scale=y_scale, axis=y_axis), color=color, strokeDash=dash,
        detail="rnd:N", order="ord:Q"
    )
    band_hi = alt.Chart(pred_df).mark_line(strokeWidth=1, opacity=0.12).encode(
        x=x, y=alt.Y("hi:Q", scale=y_scale, axis=y_axis), color=color, strokeDash=dash,
        detail="rnd:N", order="ord:Q"
    )
    pred = alt.Chart(pred_df).mark_line(strokeWidth=2.6, opacity=0.6).encode(
        x=x, y=alt.Y("mean:Q", scale=y_scale, axis=y_axis), color=color, strokeDash=dash,
        order="ord:Q",
    )
    truth = alt.Chart(truth_df).mark_line(strokeWidth=3, opacity=0.72).encode(
        x=x, y=alt.Y("v:Q", scale=y_scale, axis=y_axis), color=color, strokeDash=dash,
        order="ord:Q",
    )
    rules, labels = round_layers(x, 17)
    return alt.layer(rules, labels, bands, band_lo, band_hi, pred, truth).properties(
        width=PLOT_W, height=312, title=alt.TitleParams(" ", fontSize=17, offset=12)
    )


top = prob_panel(fundora_df, TITLE_F)
mid = prob_panel(thurman_df, TITLE_K)
bot = count_panel()

chart = (
    alt.vconcat(top, mid, bot, spacing=21)
    .resolve_scale(color="independent", strokeDash="independent")
    .properties(padding={"left": 24, "top": 20, "right": 10, "bottom": 10})
    .configure(font=FONT)
    .configure_view(stroke="#262626", strokeWidth=1.6)
    .configure_axis(
        labelFont=FONT, titleFont=FONT, labelFontSize=14, titleFontWeight="normal",
        labelColor="#000000", titleColor="#000000", tickColor="#262626", tickWidth=1.3,
        domain=False, gridColor="#e3e3e3", gridWidth=1,
    )
    .configure_title(font=FONT, fontWeight="normal", color="#000000", anchor="middle", offset=3)
    .configure_legend(labelFont=FONT, labelColor="#000000")
)

chart.save("out.html", embed_options={"renderer": "svg", "actions": False})
